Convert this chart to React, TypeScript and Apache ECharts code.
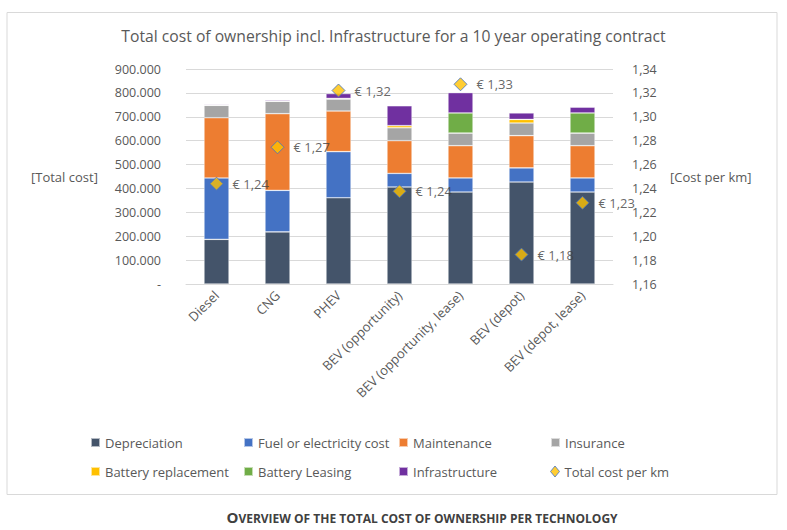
import React, { useEffect, useRef } from "react";
import * as echarts from "echarts";

const categories = [
  "Diesel",
  "CNG",
  "PHEV",
  "BEV (opportunity)",
  "BEV (opportunity, lease)",
  "BEV (depot)",
  "BEV (depot, lease)",
];
const depreciation = [187000, 218000, 361000, 406000, 385000, 427000, 385000];
const fuelCost = [257000, 174000, 193000, 57000, 59000, 59000, 59000];
const maintenance = [252000, 321000, 170000, 137000, 135000, 135000, 135000];
const insurance = [52000, 52000, 50000, 54000, 53000, 53000, 53000];
const batteryReplacement = [0, 0, 3000, 9000, 0, 15000, 0];
const batteryLeasing = [0, 0, 0, 0, 84000, 0, 84000];
const infrastructure = [3000, 4000, 20000, 83000, 85000, 27000, 24000];
const costPerKm = [1.244, 1.2745, 1.322, 1.2376, 1.3272, 1.1846, 1.228];

const leftTicks = { min: 0, max: 900000, interval: 100000 };
const rightTicks = { min: 1.16, max: 1.34, interval: 0.02 };

const FONT = "'Open Sans', 'Noto Sans', sans-serif";
const TXT = "#595959";

const barSeries = [
  { name: "Depreciation", data: depreciation, color: "#44546A" },
  { name: "Fuel or electricity cost", data: fuelCost, color: "#4472C4" },
  { name: "Maintenance", data: maintenance, color: "#ED7D31" },
  { name: "Insurance", data: insurance, color: "#A5A5A5" },
  { name: "Battery replacement", data: batteryReplacement, color: "#FFC000" },
  { name: "Battery Leasing", data: batteryLeasing, color: "#70AD47" },
  { name: "Infrastructure", data: infrastructure, color: "#7030A0" },
];

const legendPos: Array<[string, number, number]> = [
  ["Depreciation", 90, 443],
  ["Fuel or electricity cost", 243, 443],
  ["Maintenance", 398, 443],
  ["Insurance", 550, 443],
  ["Battery replacement", 90, 472],
  ["Battery Leasing", 243, 472],
  ["Infrastructure", 398, 472],
  ["Total cost per km", 550, 472],
];

export default function App() {
  const ref = useRef<HTMLDivElement>(null);
  useEffect(() => {
    document.body.style.margin = "0";
    if (!ref.current) return;
    const chart = echarts.init(ref.current, undefined, { renderer: "svg" });
    const fmtThousands = (v: number) =>
      v === 0 ? "-" : String(Math.round(v)).replace(/\B(?=(\d{3})+(?!\d))/g, ".");
    const option: any = {
      animation: false,
      backgroundColor: "#fff",
      textStyle: { fontFamily: FONT },
      title: {
        text: "Total cost of ownership incl. Infrastructure for a 10 year operating contract",
        left: "center",
        top: 23,
        textStyle: { fontFamily: FONT, fontSize: 15.7, fontWeight: "normal", color: TXT },
      },
      grid: { left: 186, right: 174, top: 69, bottom: 246 },
      legend: legendPos.map(([name, x, y]) => ({
        data: [
          name === "Total cost per km"
            ? { name, icon: "diamond", itemStyle: { color: "#FFC000", borderColor: "#4472C4", borderWidth: 1 } }
            : { name, icon: "rect" },
        ],
        left: x,
        top: y - 7,
        padding: 0,
        itemGap: 0,
        itemWidth: 9,
        itemHeight: name === "Total cost per km" ? 11 : 9,
        selectedMode: false,
        textStyle: { fontFamily: FONT, fontSize: 13, color: TXT },
      })),
      xAxis: {
        type: "category",
        data: categories,
        axisLine: { lineStyle: { color: "#D9D9D9" } },
        axisTick: { show: false },
        axisLabel: { rotate: 45, interval: 0, margin: 9, fontSize: 13, color: TXT, fontFamily: FONT },
      },
      yAxis: [
        {
          type: "value",
          ...leftTicks,
          axisLine: { show: false },
          axisTick: { show: false },
          splitLine: { lineStyle: { color: "#D9D9D9" } },
          axisLabel: { margin: 25, fontSize: 12.5, color: TXT, fontFamily: FONT, formatter: fmtThousands },
        },
        {
          type: "value",
          ...rightTicks,
          axisLine: { show: false },
          axisTick: { show: false },
          splitLine: { show: false },
          axisLabel: {
            margin: 19,
            fontSize: 12.5,
            color: TXT,
            fontFamily: FONT,
            formatter: (v: number) => v.toFixed(2).replace(".", ","),
          },
        },
      ],
      series: [
        ...barSeries.map((s) => ({
          name: s.name,
          type: "bar",
          stack: "total",
          barWidth: 25,
          data: s.data,
          itemStyle: { color: s.color, borderColor: "rgba(255,255,255,0.6)", borderWidth: 0.6 },
        })),
        {
          name: "Total cost per km",
          type: "scatter",
          yAxisIndex: 1,
          data: costPerKm,
          symbol: "diamond",
          symbolSize: 13,
          z: 10,
          itemStyle: { color: "#FFC000", borderColor: "#4472C4", borderWidth: 1 },
          label: {
            show: true,
            position: "right",
            distance: 9,
            fontSize: 13,
            color: "#404040",
            fontFamily: FONT,
            formatter: (p: any) => "€ " + Number(p.value).toFixed(2).replace(".", ","),
          },
        },
      ],
      graphic: [
        {
          type: "rect",
          shape: { x: 7, y: 12.5, width: 770, height: 482 },
          style: { fill: "none", stroke: "#D9D9D9", lineWidth: 1 },
          silent: true,
        },
        {
          type: "text",
          x: 31,
          y: 177,
          style: { text: "[Total cost]", fontFamily: FONT, fontSize: 13, fill: TXT, verticalAlign: "middle" },
        },
        {
          type: "text",
          x: 670,
          y: 177,
          style: { text: "[Cost per km]", fontFamily: FONT, fontSize: 13, fill: TXT, verticalAlign: "middle" },
        },
        {
          type: "text",
          x: 422,
          y: 517,
          style: {
            text: "{big|O}{small|VERVIEW OF THE TOTAL COST OF OWNERSHIP PER TECHNOLOGY}",
            align: "center",
            verticalAlign: "middle",
            rich: {
              big: { fontFamily: FONT, fontSize: 15, fontWeight: "bold", fill: "#404040" },
              small: { fontFamily: FONT, fontSize: 12, fontWeight: "bold", fill: "#404040", padding: [2, 0, 0, 0] },
            },
          },
        },
      ],
    };
    chart.setOption(option);
    return () => chart.dispose();
  }, []);
  return <div ref={ref} style={{ width: 787, height: 530 }} />;
}
